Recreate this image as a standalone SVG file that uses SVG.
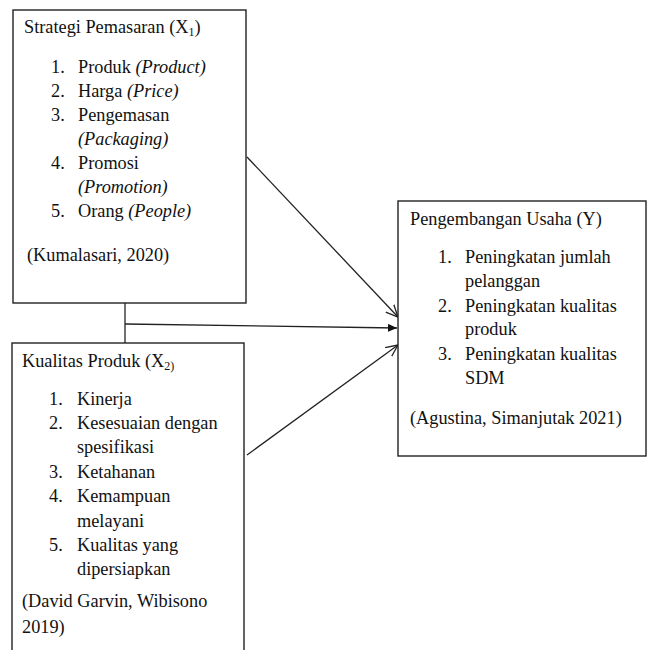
<svg xmlns="http://www.w3.org/2000/svg" width="648" height="650" viewBox="0 0 648 650">
<style>
.box{fill:#fff;stroke:#222;stroke-width:1.4}
.t{font-family:'Liberation Serif','Times New Roman',serif;font-size:18.3px;fill:#111}
.i{font-style:italic}
.sub{font-size:12px}
.c{stroke:#222;stroke-width:1.3;fill:none}
</style>
<defs>
<marker id="open" markerUnits="userSpaceOnUse" markerWidth="14" markerHeight="14" refX="12" refY="6" orient="auto" viewBox="0 0 14 12">
<path d="M0,0.5 L12,6 L0,11.5" fill="none" stroke="#222" stroke-width="1.3"/>
</marker>
<marker id="fill" markerUnits="userSpaceOnUse" markerWidth="10" markerHeight="8" refX="9" refY="4" orient="auto" viewBox="0 0 10 8">
<path d="M0,0 L9,4 L0,8 Z" fill="#111"/>
</marker>
</defs>
<g id="connectors">
<line class="c" x1="125" y1="303" x2="125" y2="343"/>
<line class="c" x1="125" y1="324" x2="397" y2="328" marker-end="url(#fill)"/>
<line class="c" x1="247" y1="157" x2="398" y2="317" marker-end="url(#open)"/>
<line class="c" x1="247" y1="455" x2="398" y2="345" marker-end="url(#open)"/>
</g>
<g id="strategi">
<rect class="box" x="13" y="10" width="233" height="293"/>
<text class="t" x="24" y="33">Strategi Pemasaran (X<tspan class="sub" dy="3">1</tspan><tspan dy="-3">)</tspan></text>
<text class="t" x="51" y="73">1.</text><text class="t" x="78" y="73">Produk <tspan class="i">(Product)</tspan></text>
<text class="t" x="51" y="97">2.</text><text class="t" x="78" y="97">Harga <tspan class="i">(Price)</tspan></text>
<text class="t" x="51" y="121">3.</text><text class="t" x="78" y="121">Pengemasan</text>
<text class="t i" x="78" y="145">(Packaging)</text>
<text class="t" x="51" y="169">4.</text><text class="t" x="78" y="169">Promosi</text>
<text class="t i" x="78" y="193">(Promotion)</text>
<text class="t" x="51" y="217">5.</text><text class="t" x="78" y="217">Orang <tspan class="i">(People)</tspan></text>
<text class="t" x="27" y="261">(Kumalasari, 2020)</text>
</g>
<g id="kualitas">
<rect class="box" x="12" y="343" width="232" height="320"/>
<text class="t" x="22" y="367">Kualitas Produk (X<tspan class="sub" dy="3">2)</tspan></text>
<text class="t" x="49" y="405">1.</text><text class="t" x="77" y="405">Kinerja</text>
<text class="t" x="49" y="429">2.</text><text class="t" x="77" y="429">Kesesuaian dengan</text>
<text class="t" x="77" y="453">spesifikasi</text>
<text class="t" x="49" y="478">3.</text><text class="t" x="77" y="478">Ketahanan</text>
<text class="t" x="49" y="502">4.</text><text class="t" x="77" y="502">Kemampuan</text>
<text class="t" x="77" y="527">melayani</text>
<text class="t" x="49" y="551">5.</text><text class="t" x="77" y="551">Kualitas yang</text>
<text class="t" x="77" y="575">dipersiapkan</text>
<text class="t" x="22" y="607">(David Garvin, Wibisono</text>
<text class="t" x="22" y="633">2019)</text>
</g>
<g id="pengembangan">
<rect class="box" x="398" y="201" width="248" height="255"/>
<text class="t" x="410" y="225">Pengembangan Usaha (Y)</text>
<text class="t" x="438" y="263">1.</text><text class="t" x="465" y="263">Peningkatan jumlah</text>
<text class="t" x="465" y="287">pelanggan</text>
<text class="t" x="438" y="312">2.</text><text class="t" x="465" y="312">Peningkatan kualitas</text>
<text class="t" x="465" y="335">produk</text>
<text class="t" x="438" y="360">3.</text><text class="t" x="465" y="360">Peningkatan kualitas</text>
<text class="t" x="465" y="384">SDM</text>
<text class="t" x="410" y="424">(Agustina, Simanjutak 2021)</text>
</g>
</svg>
